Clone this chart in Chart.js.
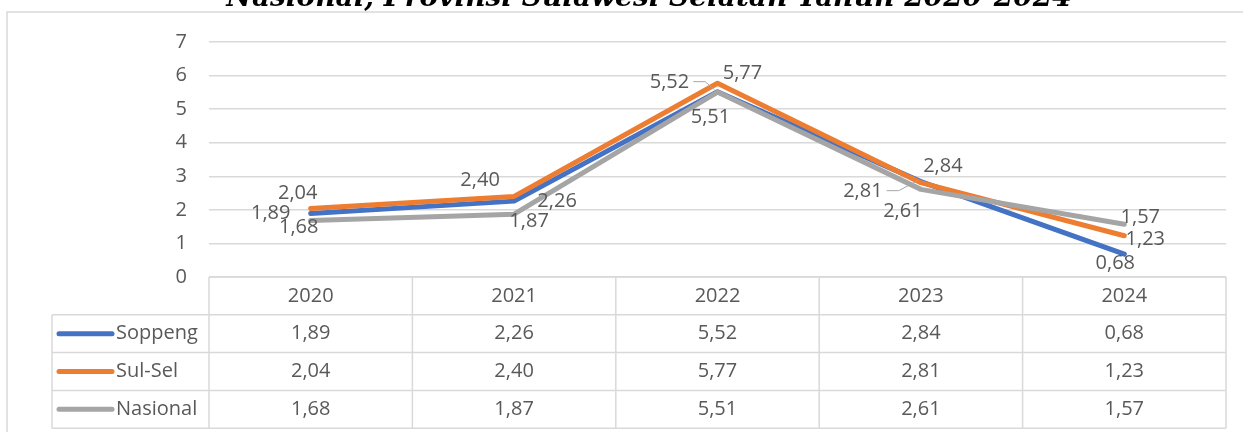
<!DOCTYPE html>
<html>
<head>
<meta charset="utf-8">
<script src="https://cdn.jsdelivr.net/npm/chart.js@4.4.1/dist/chart.umd.min.js"></script>
<style>
  html, body { margin: 0; padding: 0; background: #fff; }
  #wrap { width: 1243px; height: 432px; position: relative; }
</style>
</head>
<body>
<div id="wrap"><canvas id="chart"></canvas></div>
<script>
const titleText = "Nasional, Provinsi Sulawesi Selatan Tahun 2020-2024"
const years = ["2020", "2021", "2022", "2023", "2024"]
const soppeng = [1.89, 2.26, 5.52, 2.84, 0.68]
const sulSel = [2.04, 2.40, 5.77, 2.81, 1.23]
const nasional = [1.68, 1.87, 5.51, 2.61, 1.57]
const seriesNames = ["Soppeng", "Sul-Sel", "Nasional"]
const seriesColors = ["#4472C4", "#ED7D31", "#A5A5A5"]

// label offsets (px) relative to each point, like excel's auto placement
const labelOffsets = [
	[[-40, 0], [43, 0], [-48, -9, true], [22, -15], [-9, 9]],
	[[-13, -15], [-34, -16], [25, -10], [-58, 9, true], [21, 4]],
	[[-12, 7], [15, 7], [-7, 25], [-18, 22], [16, -7]],
]

const FONT = "'Open Sans', 'Noto Sans', sans-serif"
const TEXT = "#595959"
const GRID = "#d9d9d9"

const fmt = (v) => v.toFixed(2).replace(".", ",")

const labelPlugin = {
	id: "pointLabels",
	afterDatasetsDraw(chart) {
		const ctx = chart.ctx
		ctx.save()
		ctx.font = "20px " + FONT
		ctx.fillStyle = TEXT
		ctx.textAlign = "center"
		ctx.textBaseline = "middle"
		chart.data.datasets.forEach((ds, di) => {
			const meta = chart.getDatasetMeta(di)
			meta.data.forEach((pt, i) => {
				const off = labelOffsets[di][i]
				const lx = pt.x + off[0]
				const ly = pt.y + off[1]
				if (off[2]) {
					// leader line
					const w = ctx.measureText(fmt(ds.data[i])).width
					ctx.strokeStyle = "#a6a6a6"
					ctx.lineWidth = 1
					ctx.beginPath()
					ctx.moveTo(lx + w / 2 + 4, ly - 1)
					ctx.lineTo(lx + w / 2 + 16, ly - 1)
					ctx.lineTo(pt.x - 3, pt.y - 2)
					ctx.stroke()
				}
				ctx.fillText(fmt(ds.data[i]), lx, ly)
			})
		})
		ctx.restore()
	},
}

const tablePlugin = {
	id: "dataTable",
	afterDraw(chart) {
		const ctx = chart.ctx
		const x = chart.scales.x
		const area = chart.chartArea
		const colW = (area.right - area.left) / years.length
		const top = area.bottom
		const rowH = 37.8
		const keyLeft = 52
		ctx.save()

		// chart border (top + left)
		ctx.strokeStyle = GRID
		ctx.lineWidth = 1.5
		ctx.beginPath()
		ctx.moveTo(7, 432)
		ctx.lineTo(7, 12)
		ctx.lineTo(1243, 12)
		ctx.stroke()

		// title (cut off at top)
		ctx.font = "italic bold 28px 'DejaVu Serif', serif"
		ctx.fillStyle = "#000"
		ctx.textAlign = "center"
		ctx.textBaseline = "alphabetic"
		ctx.fillText(titleText, 649, 6, 858)

		// grid of the table
		ctx.strokeStyle = GRID
		ctx.lineWidth = 1.5
		ctx.beginPath()
		ctx.moveTo(area.left, top)
		ctx.lineTo(area.right, top)
		for (let r = 1; r <= 4; r++) {
			ctx.moveTo(keyLeft, top + rowH * r)
			ctx.lineTo(area.right, top + rowH * r)
		}
		ctx.moveTo(keyLeft, top + rowH)
		ctx.lineTo(keyLeft, top + rowH * 4)
		for (let c = 0; c <= years.length; c++) {
			const cx = area.left + colW * c
			ctx.moveTo(cx, top)
			ctx.lineTo(cx, top + rowH * 4)
		}
		ctx.stroke()

		ctx.font = "20px " + FONT
		ctx.fillStyle = TEXT
		ctx.textBaseline = "middle"
		ctx.textAlign = "center"
		years.forEach((y, i) => {
			ctx.fillText(y, x.getPixelForValue(i), top + rowH / 2)
		})
		chart.data.datasets.forEach((ds, di) => {
			const cy = top + rowH * (di + 1.5)
			ctx.strokeStyle = seriesColors[di]
			ctx.lineWidth = 5
			ctx.lineCap = "round"
			ctx.beginPath()
			ctx.moveTo(keyLeft + 7, cy)
			ctx.lineTo(keyLeft + 60, cy)
			ctx.stroke()
			ctx.textAlign = "left"
			ctx.fillText(seriesNames[di], keyLeft + 64, cy)
			ctx.textAlign = "center"
			ds.data.forEach((v, i) => {
				ctx.fillText(fmt(v), x.getPixelForValue(i), cy)
			})
		})
		ctx.restore()
	},
}

const config = {
	type: "line",
	data: {
		labels: years,
		datasets: [soppeng, sulSel, nasional].map((d, i) => ({
			label: seriesNames[i],
			data: d,
			borderColor: seriesColors[i],
			backgroundColor: seriesColors[i],
			borderWidth: 5,
			pointRadius: 0,
			tension: 0,
			borderCapStyle: "round",
			borderJoinStyle: "round",
			order: 3 - i,
		})),
	},
	options: {
		responsive: false,
		animation: false,
		layout: { padding: { top: 42, right: 17, bottom: 155, left: 0 } },
		plugins: {
			legend: { display: false },
			tooltip: { enabled: false },
		},
		scales: {
			x: { display: false, offset: true },
			y: {
				min: 0,
				max: 7,
				ticks: { stepSize: 1, color: TEXT, font: { size: 20, family: FONT }, padding: 22 },
				grid: { color: GRID, lineWidth: 1.5, drawTicks: false },
				border: { display: false },
				afterFit(scale) { scale.width = 209 },
			},
		},
	},
	plugins: [labelPlugin, tablePlugin],
}

const cv = document.getElementById("chart")
cv.width = 1243
cv.height = 432
new Chart(cv, config)
</script>
</body>
</html>
